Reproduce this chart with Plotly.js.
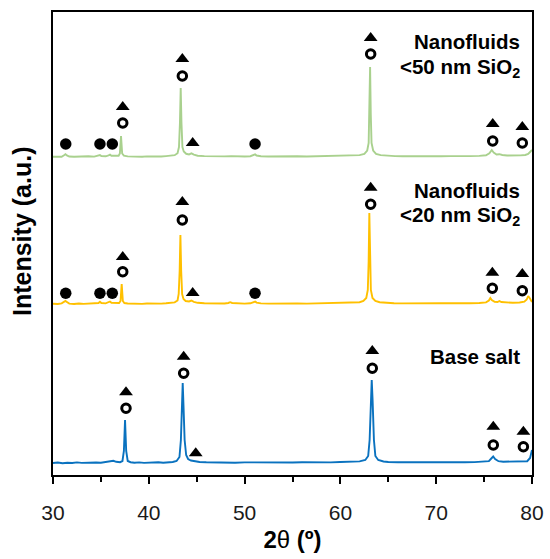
<!DOCTYPE html>
<html><head><meta charset="utf-8">
<script src="https://cdn.plot.ly/plotly-3.0.1.min.js"></script>
<style>html,body{margin:0;padding:0;background:#fff}#chart{width:550px;height:559px}</style>
</head><body><div id="chart"></div>
<script>
// ---- data (2θ in degrees, intensity in a.u.) ----
const seriesNames = ["Base salt", "Nanofluids <20 nm SiO2", "Nanofluids <50 nm SiO2"];
const offsets = [0, 159, 306];

const baseX = [30.0,30.5,31.0,31.5,32.0,32.5,33.0,33.5,34.0,34.5,35.0,35.5,36.0,36.3,36.6,37.0,37.25,37.4,37.52,37.64,37.8,38.1,38.5,39.0,39.5,40.0,40.5,41.0,41.5,42.0,42.5,42.9,43.2,43.35,43.47,43.54,43.62,43.74,43.9,44.1,44.4,44.8,45.3,46,47,48,49,50,51,52,53,54,55,56,57,58,59,60,61,62,62.6,62.9,63.05,63.18,63.27,63.36,63.5,63.65,63.95,64.5,65,66,67,68,69,70,71,72,73,74,75,75.5,75.8,75.95,76.15,76.5,77,78,79,79.5,79.8,80];
const baseY = [12,12.5,11.8,12.3,12,12.6,12.1,12.4,12,12.5,12.3,12.8,13.8,14.2,13.2,12.8,14,24,55,24,14,12.8,12.3,12.6,12.1,12.5,12.2,12.7,12.3,12.6,13,14,18,35,70,92,70,35,20,16,14.5,13.5,13,12.7,12.4,12.8,12.3,12.6,12.5,12.8,12.4,12.7,12.5,12.8,12.6,12.9,12.6,13,13,13.6,15,19,35,75,95,75,35,19,15,13.5,13,12.8,12.6,12.9,12.7,12.8,12.6,12.9,12.7,12.9,13,13.8,17,18.5,16,13.8,13.3,13.2,13.4,13.8,17,25];

const nf20X = [30.0,30.5,30.9,31.15,31.3,31.45,31.7,32.2,32.7,33.2,33.7,34.3,34.75,34.9,35.05,35.5,35.8,35.95,36.1,36.5,36.9,37.05,37.17,37.29,37.45,37.8,38.3,38.8,39.3,39.8,40.3,40.8,41.3,41.8,42.3,42.7,43.0,43.12,43.22,43.3,43.38,43.48,43.62,43.85,44.2,44.45,44.7,45.1,45.8,46.5,47.2,47.9,48.3,48.5,48.7,49.3,50.0,50.6,50.95,51.1,51.25,51.7,52.5,53.5,54.5,55.5,56.5,57.5,58.5,59.5,60.5,61.3,62.0,62.4,62.7,62.86,62.95,63.02,63.09,63.18,63.35,63.65,64.1,64.8,65.6,66.5,67.5,68.5,69.5,70.5,71.5,72.5,73.5,74.5,75.2,75.5,75.65,75.8,76.1,76.4,76.6,76.8,77.3,78,78.7,79.2,79.45,79.6,79.75,79.9,80];
const nf20Y = [12.3,12,12.6,14,15,14,12.4,12,12.5,12.1,12.4,12.2,13,14.2,13,12.6,13.5,14.5,13.3,12.8,13,15,32,15,13,12.5,12.2,12.6,12.1,12.5,12.3,12.6,12.4,12.7,13,13.6,15.5,22,45,81,45,22,17,15,14.5,15.5,14.2,13.2,12.8,12.5,12.8,12.5,13,13.8,13,12.6,12.4,12.7,13.5,14.5,13.4,12.6,12.4,12.7,12.4,12.6,12.4,12.7,12.5,12.8,12.9,13.2,13.8,15,18,26,55,103,55,26,18,15,13.8,13.2,12.8,12.6,12.8,12.6,12.9,12.7,12.8,12.6,12.8,13,13.6,15.5,18,16,14.2,14,15,14,13.4,13.2,13.5,14.3,16.5,20,18,15,14];

const nf50X = [30.0,30.5,30.9,31.15,31.3,31.45,31.7,32.2,32.7,33.2,33.7,34.3,34.75,34.9,35.05,35.5,35.8,35.95,36.1,36.5,36.85,36.98,37.1,37.22,37.4,37.8,38.3,38.8,39.3,39.8,40.3,40.8,41.3,41.8,42.3,42.7,43.0,43.15,43.25,43.33,43.41,43.51,43.65,43.9,44.2,44.45,44.7,45.1,45.8,46.5,47.2,47.9,48.6,49.3,50.0,50.6,50.95,51.1,51.25,51.7,52.5,53.5,54.5,55.5,56.5,57.5,58.5,59.5,60.5,61.3,62.0,62.5,62.8,62.95,63.03,63.1,63.17,63.25,63.42,63.72,64.2,64.9,65.7,66.5,67.5,68.5,69.5,70.5,71.5,72.5,73.5,74.5,75.2,75.55,75.8,76.0,76.3,76.6,76.9,77.4,78.1,78.8,79.3,79.6,79.8,80];
const nf50Y = [12.2,12.6,12.3,13.8,14.8,13.6,12.5,12.2,12.6,12.3,12.7,12.4,13.1,13.9,13,12.7,13.6,14.3,13.2,12.9,13.2,15.5,33,15.5,13.3,12.6,12.4,12.7,12.3,12.6,12.4,12.7,12.5,12.9,13.2,13.8,15.8,22,46,81,46,22,17.5,15.2,14.6,15.6,14.3,13.3,12.9,12.6,12.9,12.6,12.9,12.6,12.5,12.8,13.6,14.6,13.5,12.7,12.5,12.8,12.5,12.7,12.5,12.8,12.6,12.9,13,13.3,13.9,15.2,18.5,26,55,102,55,26,18.5,15.2,13.9,13.3,12.9,12.7,12.9,12.7,13,12.8,12.9,12.7,12.9,13.1,13.7,15.8,19,16.5,14.5,14.8,14,13.5,13.3,13.6,14,15,17,19];

// phase marks: ▲ triangle, ○ open circle, ● filled circle (2θ, a.u. within each pattern)
const baseTriX = [37.62,43.64,44.9,63.33,75.96,79.1];
const baseTriY = [82.7,118.3,21.7,124,48.3,43.3];
const baseCircX = [37.62,43.64,63.33,75.96,79.1];
const baseCircY = [66.7,101.7,106.7,30,28.3];
const baseDotX = [];
const baseDotY = [];

const nf20TriX = [37.28,43.5,44.58,63.16,75.86,78.99];
const nf20TriY = [59,114,23,128.3,43.3,42];
const nf20CircX = [37.28,43.5,63.16,75.86,78.99];
const nf20CircY = [44.3,96,111.7,27.7,25.3];
const nf20DotX = [31.33,34.9,36.19,51.09];
const nf20DotY = [22.7,22.7,22.7,22.7];

const nf50TriX = [37.28,43.5,44.58,63.16,75.9,78.99];
const nf50TriY = [62,110,26,131,45,42];
const nf50CircX = [37.28,43.5,63.16,75.9,78.99];
const nf50CircY = [46,93,115,28,26];
const nf50DotX = [31.33,34.9,36.19,51.09];
const nf50DotY = [25,25,25,25];

const xTicks = [30,40,50,60,70,80];
const xMinorTicks = [35,45,55,65,75];

// ---- build ----
const colors = ["#0a72bf", "#ffc000", "#a9d18e"];
const lineX = [baseX, nf20X, nf50X];
const lineY = [baseY, nf20Y, nf50Y];
const triX = [baseTriX, nf20TriX, nf50TriX], triY = [baseTriY, nf20TriY, nf50TriY];
const circX = [baseCircX, nf20CircX, nf50CircX], circY = [baseCircY, nf20CircY, nf50CircY];
const dotX = [baseDotX, nf20DotX, nf50DotX], dotY = [baseDotY, nf20DotY, nf50DotY];

const traces = [];
for (let i = 0; i < 3; i++) {
  traces.push({type:'scatter', mode:'lines', name:seriesNames[i], x:lineX[i],
    y:lineY[i].map(v => v + offsets[i]), line:{color:colors[i], width:1.9}, hoverinfo:'skip'});
}
for (let i = 0; i < 3; i++) {
  const off = offsets[i];
  traces.push({type:'scatter', mode:'markers', x:triX[i], y:triY[i].map(v=>v+off),
    marker:{symbol:'triangle-up', size:12, color:'#000'}, hoverinfo:'skip'});
  traces.push({type:'scatter', mode:'markers', x:circX[i], y:circY[i].map(v=>v+off),
    marker:{symbol:'circle-open', size:8.5, color:'#000', line:{width:3, color:'#000'}}, hoverinfo:'skip'});
  if (dotX[i].length) traces.push({type:'scatter', mode:'markers', x:dotX[i], y:dotY[i].map(v=>v+off),
    marker:{symbol:'circle', size:11.5, color:'#000'}, hoverinfo:'skip'});
}

const FAM = '"Liberation Sans", Arial, sans-serif';
const lblFont = {family:FAM, size:20.5, color:'#000'};
const annotations = [
  {x:78.95, y:433.3, xref:'x', yref:'y', xanchor:'right', yanchor:'middle', text:'<b>Nanofluids</b>', showarrow:false, font:lblFont},
  {x:78.95, y:407.5, xref:'x', yref:'y', xanchor:'right', yanchor:'middle', text:'<b>&lt;50 nm SiO<sub>2</sub></b>', showarrow:false, font:lblFont},
  {x:78.95, y:285, xref:'x', yref:'y', xanchor:'right', yanchor:'middle', text:'<b>Nanofluids</b>', showarrow:false, font:lblFont},
  {x:78.95, y:259.2, xref:'x', yref:'y', xanchor:'right', yanchor:'middle', text:'<b>&lt;20 nm SiO<sub>2</sub></b>', showarrow:false, font:lblFont},
  {x:78.95, y:119, xref:'x', yref:'y', xanchor:'right', yanchor:'middle', text:'<b>Base salt</b>', showarrow:false, font:lblFont},
  {x:(22-53)/479, y:(475-232)/463, xref:'paper', yref:'paper', xanchor:'center', yanchor:'middle', textangle:-90,
   text:'<b>Intensity (a.u.)</b>', showarrow:false, font:{family:FAM, size:25, color:'#000'}}
];

const layout = {
  width:550, height:559, showlegend:false,
  margin:{l:53, r:18, t:12, b:84},
  paper_bgcolor:'#fff', plot_bgcolor:'#fff',
  xaxis:{range:[30,80], tickvals:xTicks, ticktext:xTicks.map(String), ticks:'outside', ticklen:7, tickwidth:2, tickcolor:'#000',
    ticklabelstandoff:11,
    showline:true, linewidth:2, linecolor:'#000', mirror:true, showgrid:false, zeroline:false,
    minor:{tickvals:xMinorTicks, ticks:'outside', ticklen:5, tickwidth:2, tickcolor:'#000', showgrid:false},
    tickfont:{family:FAM, size:21, color:'#1a1a1a'},
    title:{text:'<b>2</b>θ<b> (º)</b>', font:{family:FAM, size:24, color:'#000'}, standoff:8}},
  yaxis:{range:[0,463], showticklabels:false, ticks:'', showline:true, linewidth:2, linecolor:'#000', mirror:true,
    showgrid:false, zeroline:false},
  annotations:annotations
};
Plotly.newPlot('chart', traces, layout, {displayModeBar:false, staticPlot:true});
</script></body></html>
